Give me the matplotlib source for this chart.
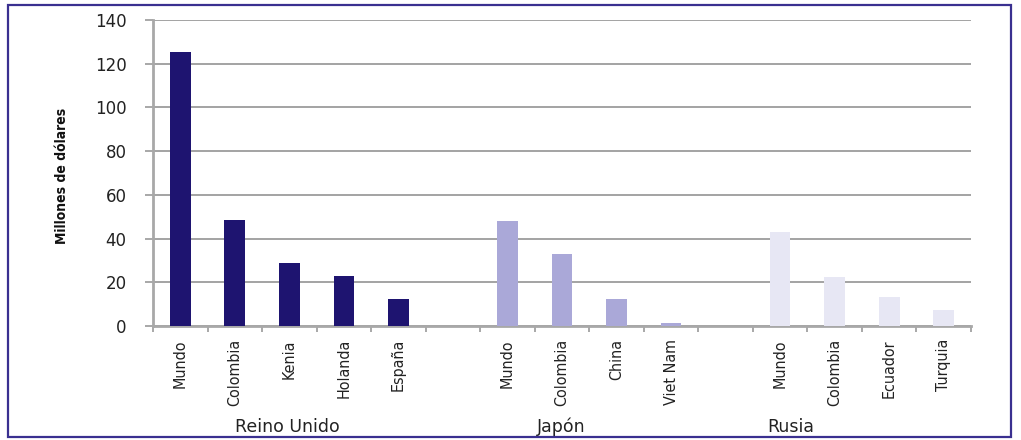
import matplotlib.pyplot as plt
from matplotlib.patches import Rectangle

# data
cats_reino = ['Mundo', 'Colombia', 'Kenia', 'Holanda', 'España']
vals_reino = [125.5, 48.5, 29, 23, 12.5]
cats_japon = ['Mundo', 'Colombia', 'China', 'Viet Nam']
vals_japon = [48.2, 33, 12.3, 1.5]
cats_rusia = ['Mundo', 'Colombia', 'Ecuador', 'Turquia']
vals_rusia = [43.2, 22.3, 13.5, 7.2]
groups = ['Reino Unido', 'Japón', 'Rusia']

col_reino = '#1e1470'
col_japon = '#aaa8d8'
col_rusia = '#e7e7f4'

fig = plt.figure(figsize=(10.21, 4.4), dpi=100)
ax = fig.add_axes([0.1499, 0.259, 0.8011, 0.6955])

# positions: one blank slot between groups
x_reino = list(range(0, 5))
x_japon = list(range(6, 10))
x_rusia = list(range(11, 15))

ax.bar(x_reino, vals_reino, width=0.38, color=col_reino, zorder=3)
ax.bar(x_japon, vals_japon, width=0.38, color=col_japon, zorder=3)
ax.bar(x_rusia, vals_rusia, width=0.38, color=col_rusia, zorder=3)

ax.set_xlim(-0.5, 14.5)
ax.set_ylim(0, 140)
ax.set_yticks(range(0, 141, 20))
ax.yaxis.grid(True, color='#a3a3a3', linewidth=1.4)
ax.set_axisbelow(True)
for s in ['top', 'right']:
    ax.spines[s].set_visible(False)
ax.spines['left'].set_color('#a8a8a8')
ax.spines['left'].set_linewidth(2)
ax.spines['bottom'].set_color('#a8a8a8')
ax.spines['bottom'].set_linewidth(2)
ax.tick_params(axis='y', length=6, width=1.4, color='#a8a8a8', labelsize=12, pad=13,
               labelcolor='#222222')

# category ticks at slot borders, labels at slot centres
ax.set_xticks([i - 0.5 for i in range(16)])
ax.set_xticklabels([])
ax.tick_params(axis='x', length=4, width=1.4, color='#a8a8a8')
labels = list(zip(x_reino, cats_reino)) + list(zip(x_japon, cats_japon)) + list(zip(x_rusia, cats_rusia))
for xi, name in labels:
    ax.text(xi, -6, name, rotation=90, ha='center', va='top', fontsize=11.5,
            family='DejaVu Sans', fontstretch='condensed', color='#222222')

for xg, name in zip([1.97, 6.99, 11.2], groups):
    ax.text(xg, -46, name, ha='center', va='center', fontsize=12.5, color='#222222')

fig.text(0.061, 0.6, 'Millones de dólares', rotation=90, ha='center', va='center',
         fontsize=10, fontweight='bold', family='DejaVu Sans', fontstretch='condensed',
         color='#111111')

# frame around the figure
fig.patches.append(Rectangle((0.0075, 0.007), 0.983, 0.982, transform=fig.transFigure,
                             fill=False, edgecolor='#3a3090', linewidth=1.6))

fig.savefig('out.png', dpi=100)
